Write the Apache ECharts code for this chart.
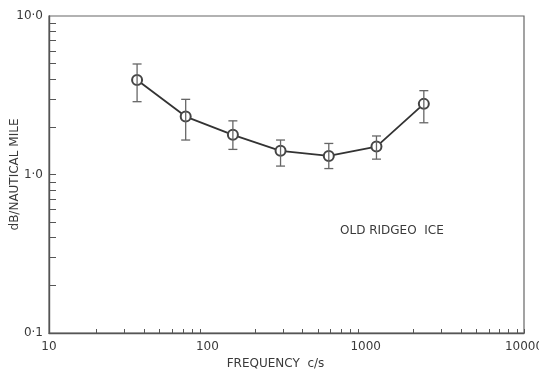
<!DOCTYPE html>
<html>
<head>
<meta charset="utf-8">
<script src="https://cdn.jsdelivr.net/npm/echarts@6/dist/echarts.min.js"></script>
<style>
  html, body { margin: 0; padding: 0; background: #fff; }
  #chart { width: 539px; height: 372px; }
</style>
</head>
<body>
<div id="chart"></div>
<script>
// Attenuation over old ridged sea ice, octave band measurements
const frequency = [36, 73, 145, 290, 585, 1170, 2330];      // c/s
const attenuation = [3.95, 2.32, 1.78, 1.41, 1.31, 1.50, 2.79]; // dB per nautical mile
const errorHigh = [4.98, 2.98, 2.18, 1.65, 1.57, 1.75, 3.38];
const errorLow = [2.88, 1.65, 1.44, 1.13, 1.09, 1.25, 2.12];

const xMinorTicks = [20, 30, 40, 50, 60, 70, 80, 90,
                     200, 300, 400, 500, 600, 700, 800, 900,
                     2000, 3000, 4000, 5000, 6000, 7000, 8000, 9000, 10000];
const yMinorTicks = [0.2, 0.3, 0.4, 0.5, 0.6, 0.7, 0.8, 0.9, 1,
                     2, 3, 4, 5, 6, 7, 8, 9];
const yTickText = { 0.1: '0·1', 1: '1·0', 10: '10·0' };

const FONT = '"DejaVu Sans", sans-serif';
const INK = '#3a3a3a';

const chart = echarts.init(document.getElementById('chart'), null, { renderer: 'canvas' });

chart.setOption({
  animation: false,
  backgroundColor: '#fff',
  grid: {
    left: 49, right: 15, top: 16, bottom: 39,
    outerBoundsMode: 'none', containLabel: false,
    show: true, borderColor: '#666', borderWidth: 1.2
  },
  xAxis: {
    type: 'log', logBase: 10, min: 10, max: 10000,
    name: 'FREQUENCY  c/s', nameLocation: 'middle', nameGap: 21,
    nameTextStyle: { fontFamily: FONT, fontSize: 12, color: INK, padding: [0, 22, 0, 0] },
    axisLine: { lineStyle: { color: '#555', width: 1.4 } },
    axisTick: { show: true, inside: true, length: 4, customValues: xMinorTicks, lineStyle: { color: '#555' } },
    axisLabel: { fontFamily: FONT, fontSize: 12, color: INK, margin: 8, hideOverlap: false,
                 formatter: v => String(v) },
    splitLine: { show: false }
  },
  yAxis: {
    type: 'log', logBase: 10, min: 0.1, max: 10,
    name: 'dB/NAUTICAL MILE', nameLocation: 'middle', nameGap: 28, nameMoveOverlap: false,
    nameTextStyle: { fontFamily: FONT, fontSize: 12, color: INK },
    axisLine: { lineStyle: { color: '#555', width: 1.4 } },
    axisTick: { show: true, inside: true, length: 7, customValues: yMinorTicks, lineStyle: { color: '#555' } },
    axisLabel: { fontFamily: FONT, fontSize: 12, color: INK, margin: 6,
                 formatter: v => yTickText[v] !== undefined ? yTickText[v] : '' },
    splitLine: { show: false }
  },
  graphic: [{
    type: 'text', left: 340, top: 225, silent: true,
    style: { text: 'OLD RIDGEO  ICE', fontFamily: FONT, fontSize: 12, fill: INK }
  }],
  series: [
    {
      type: 'line',
      data: frequency.map((f, i) => [f, attenuation[i]]),
      symbol: 'emptyCircle', symbolSize: 10,
      lineStyle: { color: '#333', width: 1.8 },
      itemStyle: { color: '#444', borderColor: '#444', borderWidth: 1.5 },
      z: 2
    },
    {
      type: 'custom',
      data: frequency.map((f, i) => [f, errorLow[i], errorHigh[i]]),
      renderItem: function (params, api) {
        const lo = api.coord([api.value(0), api.value(1)]);
        const hi = api.coord([api.value(0), api.value(2)]);
        const cap = 4.5;
        const style = { stroke: '#666', lineWidth: 1.3 };
        return {
          type: 'group',
          children: [
            { type: 'line', shape: { x1: hi[0], y1: hi[1], x2: lo[0], y2: lo[1] }, style },
            { type: 'line', shape: { x1: hi[0] - cap, y1: hi[1], x2: hi[0] + cap, y2: hi[1] }, style },
            { type: 'line', shape: { x1: lo[0] - cap, y1: lo[1], x2: lo[0] + cap, y2: lo[1] }, style }
          ]
        };
      },
      z: 3
    }
  ]
});
</script>
</body>
</html>
